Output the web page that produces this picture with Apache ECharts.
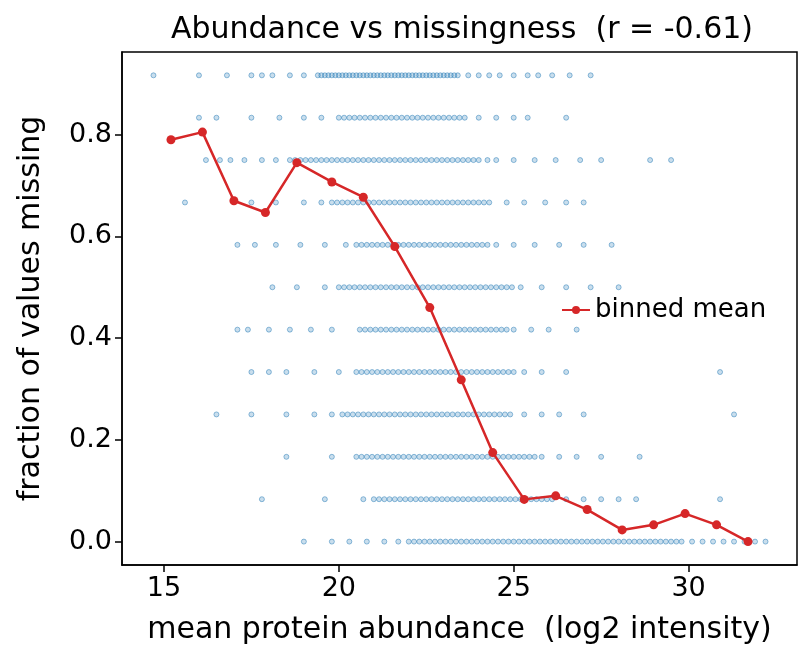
<!DOCTYPE html>
<html><head><meta charset="utf-8">
<script src="https://cdn.jsdelivr.net/npm/echarts@6/dist/echarts.min.js"></script>
<style>body{margin:0}#c{width:810px;height:666px}</style></head>
<body><div id="c"></div>
<script>
const rowLevels = [0,1/12,2/12,3/12,4/12,5/12,6/12,7/12,8/12,9/12,10/12,11/12];
const rowX = [
 [19.0,19.8,20.3,20.8,21.3,21.7,22.0,22.3,22.6,22.9,23.2,23.5,23.8,24.1,24.4,24.7,25.0,25.3,25.6,25.9,26.2,26.5,26.8,27.1,27.4,27.7,28.0,28.3,28.6,28.9,29.2,29.5,29.8,30.1,30.4,30.7,31.0,31.3,31.6,31.9,32.2],
 [17.8,19.6,20.7,21.0,21.3,21.6,21.9,22.2,22.5,22.8,23.1,23.4,23.7,24.0,24.3,24.6,24.9,25.2,25.5,25.8,26.1,26.5,27.0,27.5,28.0,28.5,30.9],
 [18.5,19.8,20.5,20.8,21.1,21.4,21.7,22.0,22.3,22.6,22.9,23.2,23.5,23.8,24.1,24.4,24.7,25.0,25.3,25.6,25.8,26.3,26.8,27.5,28.6],
 [16.5,17.5,18.5,19.3,19.8,20.1,20.4,20.7,21.0,21.3,21.6,21.9,22.2,22.5,22.8,23.1,23.4,23.7,24.0,24.3,24.6,24.9,25.3,25.8,26.3,27.0,31.3],
 [17.5,18.0,18.5,19.3,20.0,20.5,20.8,21.1,21.4,21.7,22.0,22.3,22.6,22.9,23.2,23.5,23.8,24.1,24.4,24.7,25.0,25.3,25.8,26.5,30.9],
 [17.1,17.4,18.0,18.6,19.2,19.8,20.6,20.9,21.2,21.5,21.8,22.1,22.4,22.7,23.0,23.3,23.6,23.9,24.2,24.5,24.8,25.0,25.5,26.0,26.8],
 [18.1,18.8,19.6,20.0,20.3,20.6,20.9,21.2,21.5,21.8,22.1,22.4,22.7,23.0,23.3,23.6,23.9,24.2,24.5,24.8,25.2,25.8,26.5,27.2,28.0],
 [17.1,17.6,18.2,18.9,19.6,20.2,20.5,20.8,21.1,21.4,21.7,22.0,22.3,22.6,22.9,23.2,23.5,23.8,24.1,24.5,25.0,25.6,26.3,27.0,27.8],
 [15.6,17.5,18.2,19.0,19.5,19.8,20.1,20.4,20.7,21.0,21.3,21.6,21.9,22.2,22.5,22.8,23.1,23.4,23.7,24.0,24.3,24.8,25.3,25.9,26.5,27.0],
 [16.2,16.6,16.9,17.3,17.8,18.2,18.6,18.9,19.2,19.5,19.8,20.1,20.4,20.7,21.0,21.3,21.6,21.9,22.2,22.5,22.8,23.1,23.4,23.7,24.0,24.5,25.0,25.6,26.2,26.9,27.5,28.9,29.5],
 [16.0,16.5,17.5,18.3,19.0,19.5,20.0,20.3,20.6,20.9,21.2,21.5,21.8,22.1,22.4,22.7,23.0,23.3,23.6,24.0,24.5,25.0,25.4,26.5],
 [14.7,16.0,16.8,17.5,17.8,18.1,18.6,19.0,19.4,19.6,19.8,20.0,20.2,20.4,20.6,20.8,21.0,21.2,21.4,21.6,21.8,22.0,22.2,22.4,22.6,22.8,23.0,23.2,23.4,23.7,24.0,24.3,24.6,25.0,25.4,25.7,26.1,26.6,27.2]
];
// extra points in the dense cores of each row
const rowXDense = [
 [22.15,22.45,22.75,23.05,23.35,23.65,23.95,24.25,24.55,24.85,25.15,25.45,25.75,26.05,26.35,26.65,26.95,27.25,27.55,27.85,28.15,28.45,28.75,29.05,29.35,29.65],
 [21.15,21.45,21.75,22.05,22.35,22.65,22.95,23.25,23.55,23.85,24.15,24.45,24.75,25.05,25.35,25.65,25.95],
 [20.65,20.95,21.25,21.55,21.85,22.15,22.45,22.75,23.05,23.35,23.65,23.95,24.25,24.55,24.85,25.15,25.45],
 [20.25,20.55,20.85,21.15,21.45,21.75,22.05,22.35,22.65,22.95,23.25,23.55,23.85,24.15,24.45,24.75],
 [20.65,20.95,21.25,21.55,21.85,22.15,22.45,22.75,23.05,23.35,23.65,23.95,24.25,24.55,24.85],
 [20.75,21.05,21.35,21.65,21.95,22.25,22.55,22.85,23.15,23.45,23.75,24.05,24.35,24.65],
 [20.15,20.45,20.75,21.05,21.35,21.65,21.95,22.25,22.55,22.85,23.15,23.45,23.75,24.05,24.35,24.65,24.95],
 [20.65,20.95,21.25,21.55,21.85,22.15,22.45,22.75,23.05,23.35,23.65,23.95,24.25],
 [19.95,20.25,20.55,20.85,21.15,21.45,21.75,22.05,22.35,22.65,22.95,23.25,23.55,23.85,24.15],
 [18.75,19.05,19.35,19.65,19.95,20.25,20.55,20.85,21.15,21.45,21.75,22.05,22.35,22.65,22.95,23.25,23.55,23.85,24.25],
 [20.15,20.45,20.75,21.05,21.35,21.65,21.95,22.25,22.55,22.85,23.15,23.45],
 [19.5,19.7,19.9,20.1,20.3,20.5,20.7,20.9,21.1,21.3,21.5,21.7,21.9,22.1,22.3,22.5,22.7,22.9,23.1,23.3]
];
const binX = [15.2,16.1,17.0,17.9,18.8,19.8,20.7,21.6,22.6,23.5,24.4,25.3,26.2,27.1,28.1,29.0,29.9,30.8,31.7];
const binY = [0.79,0.805,0.67,0.647,0.745,0.707,0.677,0.58,0.46,0.318,0.175,0.083,0.09,0.063,0.023,0.033,0.055,0.033,0.0];
const xTicks = [15,20,25,30];
const yTicks = [0,0.2,0.4,0.6,0.8];

const pts = [];
rowX.forEach((xs,i)=>xs.forEach(x=>pts.push([x,rowLevels[i]])));
rowXDense.forEach((xs,i)=>xs.forEach(x=>pts.push([x,rowLevels[i]])));
const F = 'DejaVu Sans';
const chart = echarts.init(document.getElementById('c'));
chart.setOption({
  animation:false,
  title:{text:'Abundance vs missingness  (r = -0.61)',left:457,top:10,textAlign:'center',textStyle:{fontFamily:F,fontSize:30,fontWeight:'normal',color:'#000'}},
  grid:{left:122,right:13,top:52,bottom:101},
  legend:{data:['binned mean'],left:556,top:292,itemWidth:28,itemHeight:10,itemGap:4,textStyle:{fontFamily:F,fontSize:26,color:'#000'}},
  xAxis:{type:'value',min:13.8,max:33.1,name:'mean protein abundance  (log2 intensity)',nameLocation:'middle',nameGap:50,
    nameTextStyle:{fontFamily:F,fontSize:30,color:'#000'},
    axisLine:{onZero:false,lineStyle:{color:'#000',width:1.5}},axisTick:{show:true,length:7,lineStyle:{color:'#000',width:1.5},customValues:xTicks},
    axisLabel:{fontFamily:F,fontSize:27,color:'#000',margin:10,customValues:xTicks,formatter:v=>String(v)},
    splitLine:{show:false}},
  yAxis:{type:'value',min:-0.046,max:0.9625,name:'fraction of values missing',nameLocation:'middle',nameGap:76,
    nameTextStyle:{fontFamily:F,fontSize:30,color:'#000'},
    axisLine:{show:true,onZero:false,lineStyle:{color:'#000',width:1.5}},axisTick:{show:true,length:7,lineStyle:{color:'#000',width:1.5},customValues:yTicks},
    axisLabel:{fontFamily:F,fontSize:27,color:'#000',margin:10,customValues:yTicks,formatter:v=>v.toFixed(1)},
    splitLine:{show:false}},
  series:[
    {type:'scatter',data:pts,symbolSize:5,itemStyle:{color:'rgba(31,119,180,0.3)',borderColor:'rgba(31,119,180,0.6)',borderWidth:1},silent:true},
    {name:'binned mean',type:'line',data:binX.map((x,i)=>[x,binY[i]]),symbol:'circle',symbolSize:9,
     lineStyle:{color:'#d62728',width:2.5},itemStyle:{color:'#d62728'}}
  ],
  graphic:[{type:'rect',shape:{x:122,y:52,width:675,height:513},style:{fill:'none',stroke:'#000',lineWidth:1.5},silent:true}]
});
</script></body></html>
